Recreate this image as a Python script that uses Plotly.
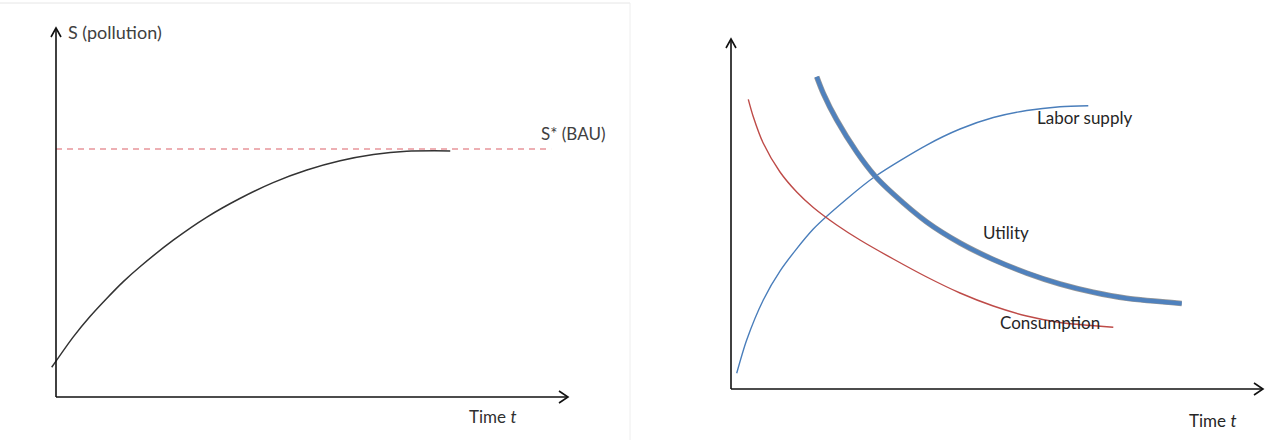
import plotly.graph_objects as go

# ---- data (left panel: pollution stock) ----
pollution_t = [-0.84, 3.38, 6.64, 9.90, 13.1, 16.4, 22.9, 29.4, 35.9, 42.4, 49.0, 55.5, 62.0, 68.5, 77.0]
pollution_s = [8.05, 16.3, 21.8, 26.7, 31.2, 35.3, 42.5, 48.7, 53.8, 58.1, 61.5, 64.0, 65.7, 66.6, 66.7]
bau_level = 67.2
bau_t = [0, 96.7]

# ---- data (right panel) ----
labor_t = [1.07, 2.95, 6.07, 9.21, 15.47, 21.75, 27.07, 36.79, 43.05, 49.30, 55.58, 61.84, 67.16]
labor_y = [4.49, 14.0, 25.43, 33.71, 45.71, 54.29, 60.71, 69.71, 74.29, 77.57, 79.57, 80.66, 80.94]
cons_t = [3.25, 4.19, 6.07, 9.21, 12.35, 15.47, 19.87, 24.25, 30.51, 36.79, 43.05, 49.30, 55.58, 61.84, 71.86]
cons_y = [82.77, 77.80, 70.20, 62.0, 56.29, 51.86, 46.86, 42.57, 37.14, 32.0, 27.43, 23.71, 20.86, 19.0, 17.63]
util_t = [16.11, 17.35, 19.87, 23.63, 27.07, 30.51, 36.79, 43.05, 49.30, 55.58, 61.84, 68.10, 74.38, 84.72]
util_y = [89.23, 84.49, 76.86, 67.71, 60.86, 55.71, 47.71, 41.71, 37.0, 33.14, 30.0, 27.63, 25.91, 24.43]

W, H = 1283, 444
FONT = "Lato"


def domains(x0px, x100px, xr, y0px, y100px, yr):
    # map axis units to pixel positions so both panels sit where the picture has them
    sx = (x100px - x0px) / 100.0
    sy = (y0px - y100px) / 100.0
    xd = [(x0px + xr[0] * sx) / W, (x0px + xr[1] * sx) / W]
    yd = [(H - (y0px - yr[0] * sy)) / H, (H - (y0px - yr[1] * sy)) / H]
    return xd, yd


lx_rng, ly_rng = [-10, 110], [-10, 105]
rx_rng, ry_rng = [-5, 103], [-14, 110]
lxd, lyd = domains(56, 568, lx_rng, 397, 28, ly_rng)
rxd, ryd = domains(731, 1263, rx_rng, 389, 39, ry_rng)

fig = go.Figure()

fig.add_trace(go.Scatter(x=bau_t, y=[bau_level, bau_level], mode="lines",
                         line=dict(color="#E8959A", width=1.5, dash="6px,5px"),
                         xaxis="x", yaxis="y"))
fig.add_trace(go.Scatter(x=pollution_t, y=pollution_s, mode="lines",
                         line=dict(color="#333333", width=1.5, shape="spline", smoothing=0.8),
                         xaxis="x", yaxis="y"))

fig.add_trace(go.Scatter(x=labor_t, y=labor_y, mode="lines",
                         line=dict(color="#4A7EBB", width=1.4, shape="spline", smoothing=0.8),
                         xaxis="x2", yaxis="y2"))
fig.add_trace(go.Scatter(x=cons_t, y=cons_y, mode="lines",
                         line=dict(color="#BE4B48", width=1.4, shape="spline", smoothing=0.8),
                         xaxis="x2", yaxis="y2"))
fig.add_trace(go.Scatter(x=util_t, y=util_y, mode="lines",
                         line=dict(color="#999999", width=5.6, shape="spline", smoothing=0.8),
                         xaxis="x2", yaxis="y2"))
fig.add_trace(go.Scatter(x=util_t, y=util_y, mode="lines",
                         line=dict(color="#4F81BD", width=4.2, shape="spline", smoothing=0.8),
                         xaxis="x2", yaxis="y2"))

hidden = dict(showgrid=False, zeroline=False, showticklabels=False, ticks="", showline=False)

shapes = []
for xa, ya in (("x", "y"), ("x2", "y2")):
    # axis lines
    shapes.append(dict(type="line", xref=xa, yref=ya, x0=0, x1=0, y0=0, y1=100,
                       line=dict(color="#111111", width=1.6)))
    shapes.append(dict(type="line", xref=xa, yref=ya, x0=0, x1=100, y0=0, y1=0,
                       line=dict(color="#111111", width=1.6)))
    # open arrow heads
    shapes.append(dict(type="path", xref=xa, yref=ya, xsizemode="pixel", ysizemode="pixel",
                       xanchor=0, yanchor=100, path="M -5,-9 L 0,0 L 5,-9",
                       line=dict(color="#111111", width=1.6)))
    shapes.append(dict(type="path", xref=xa, yref=ya, xsizemode="pixel", ysizemode="pixel",
                       xanchor=100, yanchor=0, path="M -9,-6 L 0,0 L -9,6",
                       line=dict(color="#111111", width=1.6)))

# faint frame around the left picture
shapes.append(dict(type="line", xref="paper", yref="paper", x0=0, x1=630 / W,
                   y0=(H - 3) / H, y1=(H - 3) / H, line=dict(color="#e6e6e6", width=1)))
shapes.append(dict(type="line", xref="paper", yref="paper", x0=630 / W, x1=630 / W,
                   y0=(H - 3) / H, y1=4 / H, line=dict(color="#eeeeee", width=1)))


def label(text, x, y, xa, ya, color, size=17):
    return dict(text=text, x=x, y=y, xref=xa, yref=ya, showarrow=False,
                xanchor="left", yanchor="middle", font=dict(family=FONT, size=size, color=color))


annotations = [
    label("S (pollution)", 2.0, 98.9, "x", "y", "#404040", 18),
    label("S* (BAU)", 94.3, 71.5, "x", "y", "#404040"),
    label("Time <i>t</i>", 80.2, -5.4, "x", "y", "#303030"),
    label("Labor supply", 57.2, 77.7, "x2", "y2", "#262626"),
    label("Utility", 46.9, 44.6, "x2", "y2", "#262626"),
    label("Consumption", 50.2, 18.9, "x2", "y2", "#262626"),
    label("Time <i>t</i>", 85.8, -8.9, "x2", "y2", "#262626"),
]

fig.update_layout(
    width=W, height=H,
    margin=dict(l=0, r=0, t=0, b=0),
    paper_bgcolor="white", plot_bgcolor="white",
    showlegend=False,
    xaxis=dict(domain=lxd, range=lx_rng, anchor="y", **hidden),
    yaxis=dict(domain=lyd, range=ly_rng, anchor="x", **hidden),
    xaxis2=dict(domain=rxd, range=rx_rng, anchor="y2", **hidden),
    yaxis2=dict(domain=ryd, range=ry_rng, anchor="x2", **hidden),
    shapes=shapes,
    annotations=annotations,
)

fig.write_html("out.html", config={"displayModeBar": False},
               post_script="document.body.style.margin = '0';")
